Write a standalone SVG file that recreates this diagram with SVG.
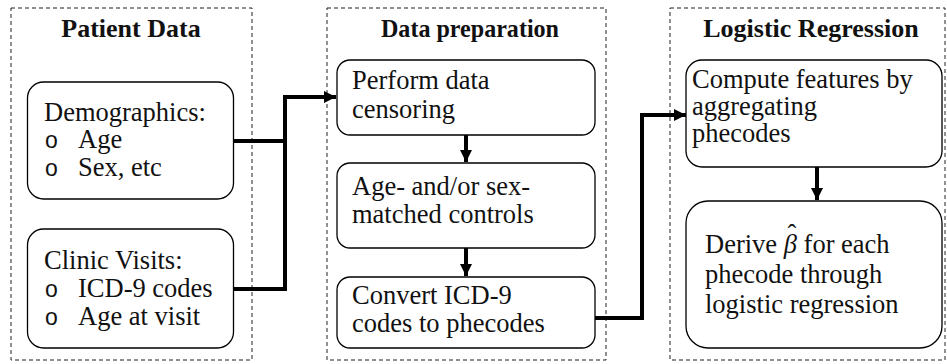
<svg xmlns="http://www.w3.org/2000/svg" width="947" height="364" viewBox="0 0 947 364">
<style>
.grp{fill:none;stroke:#222;stroke-width:1;stroke-dasharray:4 3}
.box{fill:#fff;stroke:#000;stroke-width:1.3}
.t{font-family:"Liberation Serif","Times New Roman",serif;font-size:26.5px;fill:#111}
.h{font-family:"Liberation Serif","Times New Roman",serif;font-size:26px;font-weight:bold;fill:#111;text-anchor:middle}
.b{font-family:"Liberation Sans",Arial,sans-serif;font-size:23px;fill:#111}
.c{fill:none;stroke:#000;stroke-width:4}
</style>
<defs>
<marker id="ah" viewBox="0 0 10 10" refX="10" refY="5" markerWidth="3" markerHeight="3.25" orient="auto" markerUnits="strokeWidth">
<path d="M0,0 L10,5 L0,10 z" fill="#000"/>
</marker>
</defs>
<g id="patient-data">
<rect class="grp" x="11" y="8" width="241" height="352"/>
<text class="h" x="131" y="37">Patient Data</text>
</g>
<g id="data-preparation">
<rect class="grp" x="327" y="8" width="279" height="352"/>
<text class="h" x="470" y="37" textLength="178" lengthAdjust="spacingAndGlyphs">Data preparation</text>
</g>
<g id="logistic-regression">
<rect class="grp" x="670" y="8" width="275" height="352"/>
<text class="h" x="811" y="37">Logistic Regression</text>
</g>
<g id="connectors">
<path class="c" d="M233,141 H285 M233,289 H285 M285,291 V97" />
<path class="c" d="M283,97 H336" marker-end="url(#ah)"/>
<path class="c" d="M466,135 V162" marker-end="url(#ah)"/>
<path class="c" d="M466,248 V276" marker-end="url(#ah)"/>
<path class="c" d="M595,318 H642 V115 H686" marker-end="url(#ah)"/>
<path class="c" d="M817,167 V200" marker-end="url(#ah)"/>
</g>
<g id="demographics">
<rect class="box" x="27.5" y="82" width="206" height="117" rx="16"/>
<text class="t" x="44" y="121">Demographics:</text>
<text class="b" x="45" y="148">o</text><text class="t" x="78" y="148">Age</text>
<text class="b" x="45" y="176">o</text><text class="t" x="78" y="176">Sex, etc</text>
</g>
<g id="clinic-visits">
<rect class="box" x="27.5" y="229" width="206" height="119" rx="16"/>
<text class="t" x="44" y="269">Clinic Visits:</text>
<text class="b" x="45" y="297">o</text><text class="t" x="78" y="297">ICD-9 codes</text>
<text class="b" x="45" y="325">o</text><text class="t" x="78" y="325">Age at visit</text>
</g>
<g id="censoring">
<rect class="box" x="337" y="60" width="258" height="75" rx="13"/>
<text class="t" x="352" y="89">Perform data</text>
<text class="t" x="352" y="118">censoring</text>
</g>
<g id="matched-controls">
<rect class="box" x="337" y="163" width="258" height="85" rx="13"/>
<text class="t" x="352" y="195">Age- and/or sex-</text>
<text class="t" x="352" y="223">matched controls</text>
</g>
<g id="convert-icd9">
<rect class="box" x="337" y="277" width="258" height="71" rx="13"/>
<text class="t" x="352" y="304">Convert ICD-9</text>
<text class="t" x="352" y="332">codes to phecodes</text>
</g>
<g id="compute-features">
<rect class="box" x="686" y="60" width="256" height="107" rx="16"/>
<text class="t" x="692" y="88">Compute features by</text>
<text class="t" x="692" y="115">aggregating</text>
<text class="t" x="692" y="142">phecodes</text>
</g>
<g id="derive-beta">
<rect class="box" x="686" y="201" width="256" height="147" rx="22"/>
<text class="t" x="705" y="253">Derive <tspan font-style="italic">β</tspan> for each</text>
<text class="t" x="792" y="243" text-anchor="middle">ˆ</text>
<text class="t" x="705" y="283">phecode through</text>
<text class="t" x="705" y="313">logistic regression</text>
</g>
</svg>
